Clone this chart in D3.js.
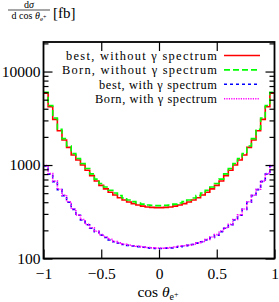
<!DOCTYPE html>
<html>
<head>
<meta charset="utf-8">
<script src="https://cdn.jsdelivr.net/npm/d3@7"></script>
<style>
  body { margin: 0; background: #fff; }
  svg text { font-family: "Liberation Serif", "DejaVu Serif", serif; fill: #000; }
</style>
</head>
<body>
<div id="chart"></div>
<script>
// bins of width 0.04 over cos(theta) in [-1, 1]
const binEdges = d3.range(0, 51).map(i => -1 + i * 0.04);

// half of each (symmetric) distribution, mirrored below
const bestNoGammaHalf = [5850, 4200, 3080, 2330, 1850, 1545, 1280, 1130, 1000, 880, 770, 675, 605, 555, 512, 478, 447, 422, 402, 386, 373, 363, 356, 352, 350];
const bornNoGammaHalf = [6000, 4330, 3180, 2410, 1915, 1600, 1330, 1175, 1040, 918, 805, 707, 634, 582, 537, 502, 470, 444, 423, 406, 392, 382, 374, 370, 368];
const bestGammaHalf = [975, 800, 665, 545, 470, 400, 335, 290, 258, 230, 211, 194, 178, 168, 158, 151, 146, 141, 138, 136, 134, 132, 130, 129, 128];
const bornGammaHalf = [985, 808, 672, 550, 475, 404, 338, 293, 261, 232, 213, 196, 180, 170, 160, 152, 147, 142, 139, 137, 135, 133, 131, 130, 129];

const mirror = h => h.concat(h.slice().reverse());

const series = [
  { label: "best, without \u03b3 spectrum", values: mirror(bestNoGammaHalf), color: "#ff0000", dash: null },
  { label: "Born, without \u03b3 spectrum", values: mirror(bornNoGammaHalf), color: "#00ff00", dash: "6,3" },
  { label: "best, with \u03b3 spectrum", values: mirror(bestGammaHalf), color: "#0000ff", dash: "3,3" },
  { label: "Born, with \u03b3 spectrum", values: mirror(bornGammaHalf), color: "#ff00ff", dash: "1.2,1.2" }
];
// widths of the legend labels in the picture (px)
const legendWidths = [151, 155, 118, 122];

const xTicks = [-1, -0.5, 0, 0.5, 1];
const xTickLabels = ["\u22121", "\u22120.5", "0", "0.5", "1"];
const yMajor = [100, 1000, 10000];
const yMinor = [200, 300, 400, 500, 600, 700, 800, 900, 2000, 3000, 4000, 5000, 6000, 7000, 8000, 9000, 20000];

const width = 279, height = 302;
const margin = { top: 42, right: 4.5, bottom: 43.5, left: 43.5 };

const svg = d3.select("#chart").append("svg")
  .attr("width", width)
  .attr("height", height);

const x = d3.scaleLinear().domain([-1, 1]).range([margin.left, width - margin.right]);
const y = d3.scaleLog().domain([100, 20700]).range([height - margin.bottom, margin.top]);

svg.append("clipPath").attr("id", "clip")
  .append("rect")
  .attr("x", margin.left).attr("y", margin.top)
  .attr("width", x(1) - x(-1)).attr("height", y(100) - y(20700));

// histograms
const line = d3.line()
  .x(d => x(d.e))
  .y(d => y(d.v))
  .curve(d3.curveStepAfter);

series.forEach(s => {
  const pts = binEdges.map((e, i) => ({ e: e, v: s.values[Math.min(i, s.values.length - 1)] }));
  svg.append("path")
    .datum(pts)
    .attr("clip-path", "url(#clip)")
    .attr("fill", "none")
    .attr("stroke", s.color)
    .attr("stroke-width", 1.6)
    .attr("stroke-dasharray", s.dash)
    .attr("d", line);
});

// axes, ticks pointing inwards
const styleAxis = g => {
  g.select(".domain").remove();
  g.selectAll("line").attr("stroke", "#000").attr("stroke-width", 1.2);
  g.selectAll("text").attr("font-size", 15.5).attr("font-family", "Liberation Serif, serif");
};

svg.append("g")
  .attr("transform", `translate(0,${y(100)})`)
  .call(d3.axisBottom(x).tickValues(xTicks).tickSize(-9).tickPadding(9)
    .tickFormat((d, i) => xTickLabels[i]))
  .call(styleAxis);
svg.append("g")
  .attr("transform", `translate(0,${margin.top})`)
  .call(d3.axisTop(x).tickValues(xTicks.slice(1, -1)).tickSize(-9).tickFormat(""))
  .call(styleAxis);

svg.append("g")
  .attr("transform", `translate(${margin.left},0)`)
  .call(d3.axisLeft(y).tickValues(yMajor).tickSize(-9).tickPadding(3).tickFormat(d3.format("d")))
  .call(styleAxis);
svg.append("g")
  .attr("transform", `translate(${margin.left},0)`)
  .call(d3.axisLeft(y).tickValues(yMinor.filter(v => v < 20700)).tickSize(-5).tickFormat(""))
  .call(styleAxis);
svg.append("g")
  .attr("transform", `translate(${x(1)},0)`)
  .call(d3.axisRight(y).tickValues(yMajor).tickSize(-9).tickFormat(""))
  .call(styleAxis);
svg.append("g")
  .attr("transform", `translate(${x(1)},0)`)
  .call(d3.axisRight(y).tickValues(yMinor.filter(v => v < 20700)).tickSize(-5).tickFormat(""))
  .call(styleAxis);

// frame
svg.append("rect")
  .attr("x", margin.left).attr("y", margin.top)
  .attr("width", x(1) - x(-1)).attr("height", y(100) - y(20700))
  .attr("fill", "none").attr("stroke", "#000").attr("stroke-width", 1.8);

// legend
const legend = svg.append("g");
series.forEach((s, i) => {
  const ly = 55.5 + i * 14.4;
  legend.append("text")
    .attr("x", 217).attr("y", ly + 4.5)
    .attr("text-anchor", "end")
    .attr("font-size", 12.4)
    .attr("textLength", legendWidths[i])
    .attr("lengthAdjust", "spacing")
    .text(s.label);
  legend.append("line")
    .attr("x1", 224).attr("x2", 260)
    .attr("y1", ly).attr("y2", ly)
    .attr("stroke", s.color).attr("stroke-width", 1.6)
    .attr("stroke-dasharray", s.dash);
});

// x title: cos theta_{e+}
const xt = svg.append("text")
  .attr("x", 158).attr("y", 297)
  .attr("text-anchor", "middle")
  .attr("font-size", 15.5);
xt.append("tspan").text("cos ");
xt.append("tspan").attr("font-style", "italic").text("\u03b8");
xt.append("tspan").attr("font-size", 10).attr("dy", 3).text("e");
xt.append("tspan").attr("font-size", 8).attr("dy", -3).text("+");

// y title: d sigma / d cos theta_{e+} [fb]
svg.append("text")
  .attr("x", 29).attr("y", 8)
  .attr("text-anchor", "middle")
  .attr("font-size", 10)
  .call(t => {
    t.append("tspan").text("d");
    t.append("tspan").attr("font-style", "italic").text("\u03c3");
  });
svg.append("line")
  .attr("x1", 8).attr("x2", 50).attr("y1", 10).attr("y2", 10)
  .attr("stroke", "#000").attr("stroke-width", 0.7);
svg.append("text")
  .attr("x", 29).attr("y", 18.5)
  .attr("text-anchor", "middle")
  .attr("font-size", 10)
  .call(t => {
    t.append("tspan").text("d cos ");
    t.append("tspan").attr("font-style", "italic").text("\u03b8");
    t.append("tspan").attr("font-size", 7).attr("dy", 2).text("e");
    t.append("tspan").attr("font-size", 6).attr("dy", -2).text("+");
  });
svg.append("text")
  .attr("x", 53).attr("y", 18)
  .attr("font-size", 15)
  .text("[fb]");
</script>
</body>
</html>
